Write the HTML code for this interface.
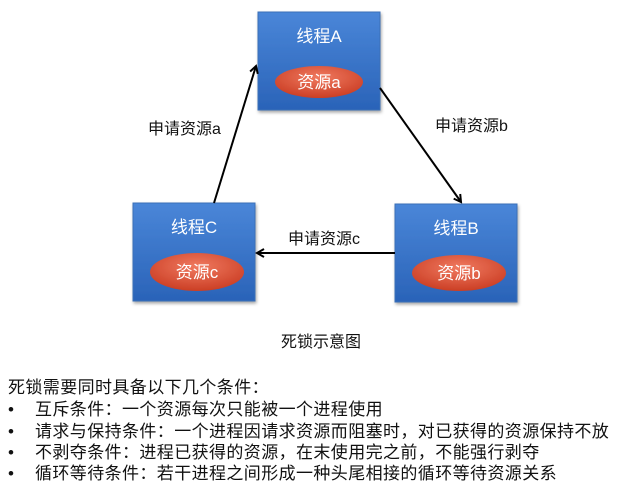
<!DOCTYPE html>
<html><head><meta charset="utf-8"><style>
body{margin:0;width:625px;height:491px;background:#fff;position:relative;overflow:hidden;font-family:"Liberation Sans","Noto Sans CJK SC",sans-serif;}
.bl{position:absolute;font-size:17px;color:#111;white-space:nowrap;left:8px;letter-spacing:0.4px;}
.bl span{display:inline-block;width:27px;}
</style></head><body>
<svg width="625" height="370" style="position:absolute;left:0;top:0">
<defs>
<linearGradient id="bx" x1="0" y1="0" x2="0" y2="1"><stop offset="0" stop-color="#4a86d8"/><stop offset="1" stop-color="#2a63b8"/></linearGradient>
<radialGradient id="el" cx="0.5" cy="0.35" r="0.7"><stop offset="0" stop-color="#f07a60"/><stop offset="1" stop-color="#c83a20"/></radialGradient>
<marker id="ar" markerWidth="10" markerHeight="10" refX="8" refY="5" orient="auto" markerUnits="userSpaceOnUse"><path d="M1,1 L8,5 L1,9" fill="none" stroke="#000" stroke-width="2"/></marker>
<filter id="sh"><feDropShadow dx="1" dy="2" stdDeviation="1.5" flood-opacity="0.35"/></filter>
</defs>
<g filter="url(#sh)">
<rect x="258" y="12" width="122" height="98" fill="url(#bx)" stroke="#3a6fb8"/>
<rect x="133" y="203" width="122" height="98" fill="url(#bx)" stroke="#3a6fb8"/>
<rect x="395" y="204" width="122" height="98" fill="url(#bx)" stroke="#3a6fb8"/>
<ellipse cx="319" cy="82" rx="44" ry="16" fill="url(#el)"/>
<ellipse cx="197" cy="272" rx="47" ry="19" fill="url(#el)"/>
<ellipse cx="459" cy="273" rx="47" ry="18" fill="url(#el)"/>
</g>
<g fill="#fff" font-size="17" font-family="Liberation Sans,Noto Sans CJK SC,sans-serif" text-anchor="middle">
<text x="319" y="42">线程A</text>
<text x="319" y="88">资源a</text>
<text x="194" y="233">线程C</text>
<text x="197" y="278">资源c</text>
<text x="456" y="234">线程B</text>
<text x="459" y="279">资源b</text>
</g>
<g stroke="#000" stroke-width="2" fill="none">
<line x1="214" y1="203" x2="256" y2="66" marker-end="url(#ar)"/>
<line x1="380" y1="88" x2="461" y2="202" marker-end="url(#ar)"/>
<line x1="395" y1="253" x2="257" y2="253" marker-end="url(#ar)"/>
</g>
<g fill="#111" font-size="16" font-family="Liberation Sans,Noto Sans CJK SC,sans-serif">
<text x="148" y="134">申请资源a</text>
<text x="435" y="131">申请资源b</text>
<text x="288" y="244">申请资源c</text>
<text x="281" y="347">死锁示意图</text>
</g>
</svg>
<div class="bl" style="top:373px">死锁需要同时具备以下几个条件：</div>
<div class="bl" style="top:395px"><span>•</span>互斥条件：一个资源每次只能被一个进程使用</div>
<div class="bl" style="top:417px"><span>•</span>请求与保持条件：一个进程因请求资源而阻塞时，对已获得的资源保持不放</div>
<div class="bl" style="top:438px"><span>•</span>不剥夺条件：进程已获得的资源，在末使用完之前，不能强行剥夺</div>
<div class="bl" style="top:459px"><span>•</span>循环等待条件：若干进程之间形成一种头尾相接的循环等待资源关系</div>
</body></html>
